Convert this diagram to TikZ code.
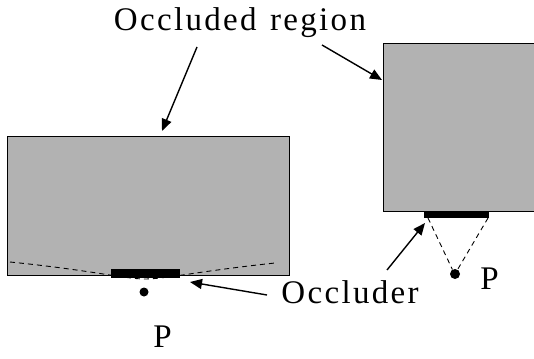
\documentclass[tikz,border=0pt]{standalone}
\usepackage{fontspec}
\setmainfont{Liberation Serif}
\newfontfamily\lblfont[LetterSpace=7]{Liberation Serif}
\usetikzlibrary{arrows.meta}
\begin{document}
\begin{tikzpicture}[x=1pt,y=-1pt,
  region/.style={draw=black,line width=0.9pt,fill=black!30},
  occl/.style={fill=black,draw=none},
  lbl/.style={inner sep=0pt,anchor=base,font=\lblfont\fontsize{33}{33}\selectfont},
  pt/.style={circle,fill=black,inner sep=0pt},
  arr/.style={line width=1.4pt,-{Triangle[length=12pt,width=10pt]}},
  vis/.style={line width=0.9pt,dash pattern=on 5pt off 4pt}]
\useasboundingbox (0,0) rectangle (534,358);
% left scene
\node[region,minimum width=282pt,minimum height=139pt,inner sep=0pt] (r1) at (148.5,205.5) {};
\draw[vis] (10,262) .. controls (90,270) and (125,279) .. (145,279) .. controls (165,279) and (200,271) .. (275,263);
\node[occl,minimum width=69pt,minimum height=9pt,inner sep=0pt] (o1) at (145.5,273.5) {};
\node[pt,minimum size=9pt] (p1) at (144,292) {};
\node[lbl] (P1) at (162.5,347) {P};
% right scene
\node[region,minimum width=151pt,minimum height=168pt,inner sep=0pt] (r2) at (458.5,127) {};
\node[occl,minimum width=65pt,minimum height=6pt,inner sep=0pt] (o2) at (456.5,215) {};
\node[pt,minimum size=10pt] (p2) at (455,274) {};
\coordinate (o2l) at (428,218);
\coordinate (o2r) at (488,218);
\draw[vis] (o2l) -- (p2.120);
\draw[vis] (o2r) -- (p2.60);
\node[lbl] (P2) at (489.5,289) {P};
% labels
\node[lbl] (t1) at (240,31) {Occluded\hspace{3pt} region};
\node[lbl] (t2) at (350,303) {Occluder};
\coordinate (a1s) at (197,47);
\coordinate (a1e) at (162,131);
\coordinate (a2s) at (322,45);
\coordinate (a2e) at (382,80);
\coordinate (a3s) at (267,295);
\coordinate (a3e) at (190,282);
\coordinate (a4s) at (387,270);
\coordinate (a4e) at (425,223);
\draw[arr] (a1s) -- (a1e);
\draw[arr] (a2s) -- (a2e);
\draw[arr] (a3s) -- (a3e);
\draw[arr] (a4s) -- (a4e);
\end{tikzpicture}
\end{document}
